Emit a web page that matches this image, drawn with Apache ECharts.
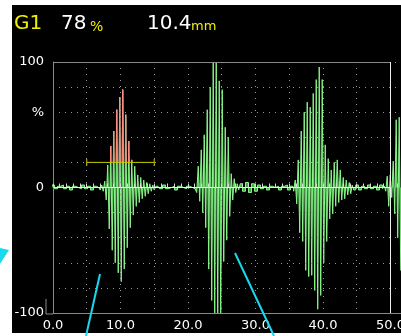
<!DOCTYPE html>
<html><head><meta charset="utf-8">
<script src="https://cdn.jsdelivr.net/npm/echarts@6/dist/echarts.min.js"></script>
<style>html,body{margin:0;padding:0;background:#fff;}#c{width:401px;height:336px;}</style>
</head><body><div id="c"></div>
<script>
// ---- data (x in mm, amplitude in % FSH) ----
const xLabelValues = [0, 10, 20, 30, 40, 50];
const yLabelMap = { '100': '100', '60': '%', '0': '0', '-100': '-100' };
const sampleStep = 0.2222;   // mm per sample inside echoes
const noiseStep = 0.4444;    // mm per sample on baseline noise

const noiseAStart = -0.889;
const noiseA = [1,-2,2,-1,1,2,-1,1,-2,1,0,-1,2,-1,1,-2,1,0];
const echo1Start = 6.889;
const echo1 = [0,-2,2,-3,5,-10,18,-33,33,-50,45,-60,62,-68,72,-75,78,-65,58,-48,37,-32,22,-22,17,-15,10,-12,8,-9,6,-7,4,-5,3,-3,2,-2,1];
const noiseBStart = 15.556;
const noiseB = [1,-1,2,-1,0,1,-2,1,0,-1,1,0,-1];
const echo2Start = 21.185;
const echo2 = [0,-4,17,-11,30,-20,42,-32,62,-65,80,-90,100,-100,100,-100,85,-100,78,-59,48,-42,40,-23,11,-10,7,-4,3,-2];
const noiseCStart = 27.852;
const noiseC = [3,-3,4,-4,3,-3,2,-1,1,-2,1,0,1,-2,1,2,-2,1];
const echo3Start = 35.556;
const echo3 = [1,-3,6,-13,22,-36,45,-43,60,-66,68,-71,64,-70,75,-82,86,-97,96,-86,86,-60,34,-43,23,-25,14,-21,20,-15,22,-12,14,-10,8,-9,6,-6,4,-5,2,-2];
const noiseDStart = 45.037;
const noiseD = [2,-2,1,-1,2,-1,1,-2,2,-1];
const echo4Start = 49.185;
const echo4 = [1,-3,9,-15,10,-8,21,-21,54,-40,56,-66];

const gateStart = 5, gateEnd = 15, gateLevel = 20;
const xMin = 0, xMax = 51.56, xEnd = 50;
const yMin = -100, yMax = 100;

function seg(start, step, vals) { return vals.map((v, i) => [+(start + i * step).toFixed(4), v]); }
const trace = [].concat(
  seg(noiseAStart, noiseStep, noiseA),
  seg(echo1Start, sampleStep, echo1),
  seg(noiseBStart, noiseStep, noiseB),
  seg(echo2Start, sampleStep, echo2),
  seg(noiseCStart, noiseStep, noiseC),
  seg(echo3Start, sampleStep, echo3),
  seg(noiseDStart, noiseStep, noiseD),
  seg(echo4Start, sampleStep, echo4)
);
const gated = trace.filter(p => p[0] >= gateStart && p[0] <= gateEnd);
let peak = gated[0];
gated.forEach(p => { if (p[1] > peak[1]) peak = p; });

const chart = echarts.init(document.getElementById('c'), null, { renderer: 'canvas' });
const FONT = 'DejaVu Sans';
const dotted = { color: '#9a9a9a', width: 1, type: [1, 5] };
const STEP = 'middle';

chart.setOption({
  animation: false,
  backgroundColor: '#ffffff',
  grid: { left: 53, right: 0, top: 62, bottom: 23, containLabel: false, outerBoundsMode: 'none' },
  xAxis: [{
    type: 'value', min: xMin, max: xMax, interval: 5, z: 5,
    axisLine: { show: true, onZero: false, lineStyle: { color: '#8a8a8a', width: 1 } },
    axisTick: { show: false },
    axisLabel: {
      color: '#ffffff', fontSize: 13, fontFamily: FONT, margin: 6,
      formatter: v => xLabelValues.indexOf(v) >= 0 ? v.toFixed(1) : ''
    },
    splitLine: { show: true, lineStyle: dotted }
  }, {
    type: 'value', min: xMin, max: xMax, interval: 1, position: 'bottom', z: 5,
    axisLine: { show: false },
    axisLabel: { show: false },
    splitLine: { show: false },
    axisTick: { show: true, inside: true, length: 4, lineStyle: { color: '#d8d8d8', width: 1 } }
  }],
  yAxis: {
    type: 'value', min: yMin, max: yMax, interval: 20, z: 5,
    axisLine: { show: true, lineStyle: { color: '#8a8a8a', width: 1 } },
    axisTick: { show: false },
    axisLabel: {
      color: '#ffffff', fontSize: 13, fontFamily: FONT, margin: 9,
      formatter: v => yLabelMap[String(v)] || ''
    },
    splitLine: { show: true, lineStyle: dotted }
  },
  visualMap: [
    { type: 'piecewise', show: false, dimension: 1, seriesIndex: 1,
      pieces: [{ gt: gateLevel, lte: yMax, color: '#c85252' }, { gte: yMin, lte: gateLevel, color: 'rgba(0,0,0,0)' }] },
    { type: 'piecewise', show: false, dimension: 1, seriesIndex: 2,
      pieces: [{ gt: gateLevel, lte: yMax, color: '#ff8a80' }, { gte: yMin, lte: gateLevel, color: 'rgba(0,0,0,0)' }] }
  ],
  series: [
    { type: 'line', data: trace, showSymbol: false, clip: false, z: 2, step: STEP,
      lineStyle: { color: '#8af78a', width: 1 },
      areaStyle: { color: '#40aa40', opacity: 1 } },
    { type: 'line', data: gated, showSymbol: false, z: 3, step: STEP,
      lineStyle: { width: 0, opacity: 0 },
      areaStyle: { opacity: 1 } },
    { type: 'line', data: gated, showSymbol: false, z: 4, step: STEP,
      lineStyle: { width: 1 } },
    { type: 'line', data: [[gateStart, gateLevel], [gateEnd, gateLevel]], z: 8,
      symbol: 'rect', symbolSize: [1, 7], showSymbol: true,
      itemStyle: { color: '#c8c800' },
      lineStyle: { color: '#c8c800', width: 1 },
      markLine: {
        silent: true, symbol: 'none', label: { show: false }, animation: false,
        data: [
          [{ coord: [xMin, yMax], lineStyle: { color: '#8a8a8a', width: 1, type: 'solid' } }, { coord: [xEnd, yMax] }],
          [{ coord: [xMin, 0], lineStyle: { color: '#f0f0f0', width: 1, type: 'solid' } }, { coord: [xEnd, 0] }],
          [{ coord: [xEnd, yMin], lineStyle: { color: '#f0f0f0', width: 1, type: 'solid' } }, { coord: [xEnd, yMax] }]
        ]
      } }
  ],
  graphic: [
    { type: 'rect', z: -100, shape: { x: 12, y: 5, width: 389, height: 328 }, style: { fill: '#000' } },
    { type: 'polyline', z: 10, shape: { points: [[46, 299], [46, 314], [53, 314]] }, style: { stroke: '#8a8a8a', lineWidth: 1, fill: null } },
    { type: 'text', z: 10, x: 14, y: 24, style: { text: 'G1', font: '20px "DejaVu Sans"', fill: '#f0f000', verticalAlign: 'middle' } },
    { type: 'text', z: 10, x: 61, y: 24, style: { text: String(peak[1]), font: '20px "DejaVu Sans"', fill: '#ffffff', verticalAlign: 'middle' } },
    { type: 'text', z: 10, x: 90, y: 27, style: { text: '%', font: '14px "DejaVu Sans"', fill: '#f0f000', verticalAlign: 'middle' } },
    { type: 'text', z: 10, x: 147, y: 24, style: { text: peak[0].toFixed(1), font: '20px "DejaVu Sans"', fill: '#ffffff', verticalAlign: 'middle' } },
    { type: 'text', z: 10, x: 191, y: 27, style: { text: 'mm', font: '13px "DejaVu Sans"', fill: '#f0f000', verticalAlign: 'middle' } },
    { type: 'polygon', z: 10, shape: { points: [[0, 248], [9, 250], [0, 264]] }, style: { fill: '#19d9ef' } },
    { type: 'line', z: 10, shape: { x1: 100, y1: 274, x2: 86, y2: 336 }, style: { stroke: '#19d9ef', lineWidth: 2 } },
    { type: 'line', z: 10, shape: { x1: 235, y1: 253, x2: 274, y2: 336 }, style: { stroke: '#19d9ef', lineWidth: 2 } }
  ]
});
</script></body></html>
